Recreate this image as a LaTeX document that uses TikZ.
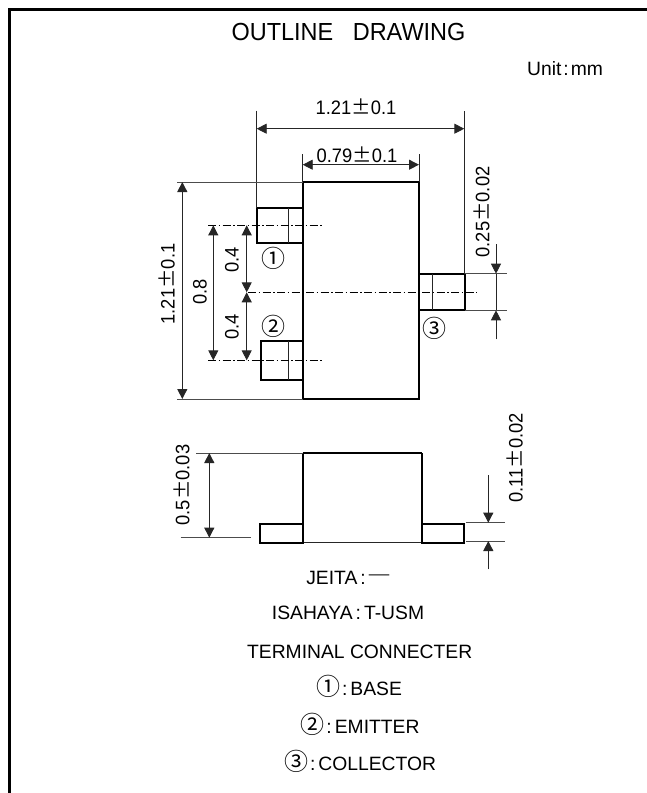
\documentclass[tikz,border=0pt]{standalone}
\usepackage{fontspec}
\setmainfont{Liberation Sans}
\newfontfamily\cjk{Noto Sans CJK JP}
\newfontfamily\dimfont[FakeStretch=0.94]{Liberation Sans}
\usetikzlibrary{arrows.meta}
\newcommand{\plusmn}{{\cjk ±}}
\newcommand{\clabel}[1]{{\cjk\fontsize{24}{24}\selectfont #1}\hspace{2pt}:\hspace{3pt}}
\tikzset{
  x=1pt,y=-1pt,
  frameline/.style={line width=3pt,black},
  outline/.style={line width=2pt,black},
  thinline/.style={line width=0.9pt,black!85},
  extline/.style={line width=0.9pt,black!70},
  centerline/.style={line width=0.8pt,black,dash pattern=on 8pt off 2.5pt on 1.5pt off 2.5pt},
  dimline/.style={thinline,{Triangle[length=10pt,width=10pt]}-{Triangle[length=10pt,width=10pt]}},
  tip/.style={thinline,-{Triangle[length=10pt,width=10pt]}},
  dimtext/.style={inner sep=0pt,font=\dimfont\fontsize{19.5}{21}\selectfont},
  vdimtext/.style={dimtext,rotate=90},
  labeltext/.style={inner sep=0pt,font=\fontsize{19.3}{21}\selectfont},
  circnum/.style={inner sep=0pt,font=\cjk\fontsize{24}{24}\selectfont},
}
\begin{document}
\begin{tikzpicture}
\useasboundingbox (0,0) rectangle (647,793);
% frame
\draw[frameline] (9.5,793) -- (9.5,9.5) -- (647,9.5);
% headings
\node[inner sep=0pt,font=\fontsize{24.7}{26}\selectfont,xscale=0.95] (title) at (348.5,32) {OUTLINE\ \ \ DRAWING};
\node[labeltext] (unit) at (565,69) {Unit\hspace{2pt}:\hspace{2pt}mm};
% top view
\draw[outline] (302.7,182) rectangle (419,399);
\draw[outline] (256.7,208.3) rectangle (302.7,242.7);
\draw[thinline] (288.3,208.3) -- (288.3,242.7);
\draw[outline] (260.7,341.3) rectangle (302.7,380);
\draw[thinline] (288.3,341.3) -- (288.3,380);
\draw[outline] (419,273.7) rectangle (465,310.3);
\draw[thinline] (432.3,273.7) -- (432.3,310.3);
% centre lines
\draw[centerline] (208,225.3) -- (322.7,225.3);
\draw[centerline] (208,360.3) -- (322.7,360.3);
\draw[centerline] (248,292.3) -- (476.7,292.3);
% extension lines
\draw[thinline] (256.7,110.7) -- (256.7,208.3);
\draw[thinline] (302.7,154) -- (302.7,182);
\draw[thinline] (419,154) -- (419,182);
\draw[thinline] (464.3,111) -- (464.3,273.7);
\draw[extline] (177,182) -- (302.7,182);
\draw[extline] (177,399) -- (302.7,399);
\draw[extline] (465,273.7) -- (506.7,273.7);
\draw[extline] (465,310.3) -- (506.7,310.3);
% dimensions, top view
\draw[dimline] (256.7,128.7) -- (464.3,128.7);
\draw[dimline] (302.7,164.7) -- (419,164.7);
\draw[dimline] (182.3,182) -- (182.3,399);
\draw[dimline] (213.3,225.3) -- (213.3,360.3);
\draw[dimline] (246.7,225.3) -- (246.7,292.3);
\draw[dimline] (246.7,292.3) -- (246.7,360.3);
\draw[tip] (496,244.3) -- (496,273.7);
\draw[tip] (496,339.3) -- (496,310.3);
\draw[thinline] (496,273.7) -- (496,310.3);
\node[dimtext] (d1) at (356,107) {1.21\plusmn 0.1};
\node[dimtext] (d2) at (357,155) {0.79\plusmn 0.1};
\node[vdimtext] (d3) at (481.7,212) {0.25\plusmn 0.02};
\node[vdimtext] (d4) at (167,284) {1.21\plusmn 0.1};
\node[vdimtext] (d5) at (200,292) {0.8};
\node[vdimtext] (d6) at (232,260) {0.4};
\node[vdimtext] (d7) at (232,326.7) {0.4};
\node[circnum] (c1) at (273.3,258) {①};
\node[circnum] (c2) at (273.3,326.7) {②};
\node[circnum] (c3) at (434,328.3) {③};
% side view
\draw[outline] (302.7,453) -- (302.7,542.5);
\draw[outline] (302.7,453) -- (421.7,453);
\draw[outline] (421.7,453) -- (421.7,542.5);
\draw[thinline] (302.7,542.5) -- (421.7,542.5);
\draw[outline] (259.7,523.5) rectangle (302.7,542.5);
\draw[outline] (421.7,523.5) rectangle (464.3,542.5);
\draw[extline] (196,453) -- (302.7,453);
\draw[extline] (180.7,537.7) -- (250.7,537.7);
\draw[extline] (466,522.7) -- (505,522.7);
\draw[extline] (466,541) -- (505,541);
\draw[dimline] (209.3,453) -- (209.3,537.7);
\draw[tip] (488.3,475) -- (488.3,522.7);
\draw[tip] (488.3,569.3) -- (488.3,541);
\node[vdimtext] (d8) at (181.7,485) {0.5\plusmn 0.03};
\node[vdimtext] (d9) at (515,458) {0.11\plusmn 0.02};
% bottom text
\node[labeltext] (t1) at (349,578) {JEITA\hspace{3pt}:\hspace{2pt}{\cjk\fontsize{24}{24}\selectfont ―}};
\node[labeltext] (t2) at (348,613) {ISAHAYA\hspace{3pt}:\hspace{3pt}T-USM};
\node[labeltext] (t3) at (359.7,652) {TERMINAL CONNECTER};
\node[labeltext] (t4) at (359,686) {\clabel{①}BASE};
\node[labeltext] (t5) at (360,724) {\clabel{②}EMITTER};
\node[labeltext] (t6) at (360,761) {\clabel{③}COLLECTOR};
\end{tikzpicture}
\end{document}
